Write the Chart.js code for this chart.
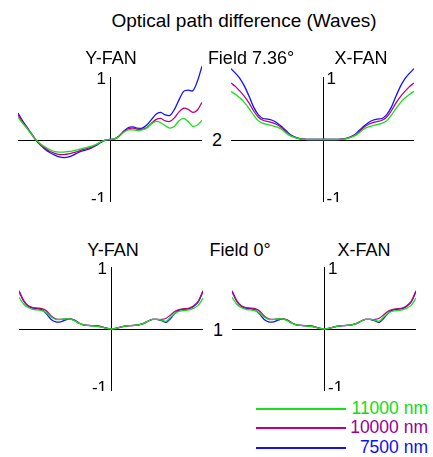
<!DOCTYPE html>
<html>
<head>
<meta charset="utf-8">
<script src="https://cdn.jsdelivr.net/npm/chart.js@4"></script>
<style>
  body { margin: 0; background: #fff; width: 433px; height: 457px; position: relative; overflow: hidden;
         font-family: "Liberation Sans", Arial, sans-serif; }
  canvas { position: absolute; }
  .t { position: absolute; font-size: 18px; color: #000; white-space: nowrap; transform: translate(-50%, -50%); line-height: 1; }
  .leg { position: absolute; height: 2px; }
  .lt { position: absolute; font-size: 17.5px; line-height: 1; transform: translateY(-50%); text-align: right; right: 5px; }
</style>
</head>
<body>
<canvas id="tl" width="184" height="140" style="left:18px;top:62px"></canvas>
<canvas id="tr" width="183" height="140" style="left:231px;top:62px"></canvas>
<canvas id="bl" width="184" height="129" style="left:19px;top:262px"></canvas>
<canvas id="br" width="184" height="129" style="left:232px;top:262px"></canvas>

<div class="t" style="left:244px;top:20px;font-size:19px">Optical path difference (Waves)</div>
<div class="t" style="left:111px;top:58px">Y-FAN</div>
<div class="t" style="left:251px;top:58px">Field 7.36°</div>
<div class="t" style="left:361px;top:58px">X-FAN</div>
<div class="t" style="left:217px;top:140px">2</div>
<div class="t" style="left:113px;top:250px">Y-FAN</div>
<div class="t" style="left:240px;top:250px">Field 0°</div>
<div class="t" style="left:364px;top:250px">X-FAN</div>
<div class="t" style="left:218px;top:330px">1</div>

<div id="legend"></div>

<script>
// normalised pupil coordinate
const pupil = [-1, -0.95, -0.9, -0.85, -0.8, -0.75, -0.7, -0.65, -0.6, -0.55, -0.5, -0.45, -0.4, -0.35, -0.3, -0.25, -0.2, -0.15, -0.1, -0.05,
  0, 0.05, 0.1, 0.15, 0.2, 0.25, 0.3, 0.35, 0.4, 0.45, 0.5, 0.55, 0.6, 0.65, 0.7, 0.75, 0.8, 0.85, 0.9, 0.95, 1];

const wavelengths = ['11000 nm', '10000 nm', '7500 nm'];
const colors = ['#18e018', '#c0007f', '#1010ff'];
const tickValues = [1, -1];
const tickLabels = ['1', '-1'];

// Field 7.36 deg, Y-FAN
const yfan7Green = [0.37, 0.27, 0.18, 0.08, -0.01, -0.08, -0.13, -0.17, -0.20, -0.21, -0.21, -0.20, -0.19, -0.17, -0.15, -0.13, -0.11, -0.08, -0.04, -0.01,
  0, 0.01, 0.05, 0.12, 0.16, 0.16, 0.15, 0.16, 0.19, 0.26, 0.30, 0.28, 0.23, 0.19, 0.22, 0.31, 0.35, 0.30, 0.22, 0.24, 0.32];
const yfan7Magenta = [0.41, 0.29, 0.19, 0.08, -0.02, -0.09, -0.15, -0.20, -0.23, -0.25, -0.25, -0.24, -0.22, -0.20, -0.17, -0.15, -0.13, -0.09, -0.04, -0.01,
  0, 0.01, 0.06, 0.13, 0.18, 0.19, 0.17, 0.17, 0.20, 0.27, 0.33, 0.35, 0.31, 0.30, 0.36, 0.46, 0.52, 0.50, 0.45, 0.49, 0.62];
const yfan7Blue = [0.44, 0.31, 0.20, 0.09, -0.02, -0.10, -0.17, -0.22, -0.26, -0.29, -0.30, -0.29, -0.26, -0.22, -0.19, -0.17, -0.14, -0.10, -0.05, -0.01,
  0, 0.01, 0.06, 0.14, 0.20, 0.21, 0.19, 0.19, 0.24, 0.33, 0.42, 0.45, 0.41, 0.40, 0.50, 0.66, 0.80, 0.82, 0.81, 0.97, 1.22];

// Field 7.36 deg, X-FAN
const xfan7Green = [0.80, 0.75, 0.69, 0.61, 0.51, 0.40, 0.31, 0.27, 0.25, 0.23, 0.21, 0.17, 0.11, 0.06, 0.03, 0.01, 0.003, 0, 0, 0,
  0, 0, 0, 0, 0.003, 0.01, 0.03, 0.06, 0.11, 0.17, 0.21, 0.23, 0.25, 0.27, 0.31, 0.40, 0.51, 0.61, 0.69, 0.75, 0.80];
const xfan7Magenta = [0.94, 0.88, 0.80, 0.71, 0.60, 0.47, 0.37, 0.32, 0.30, 0.28, 0.25, 0.20, 0.13, 0.07, 0.035, 0.012, 0.004, 0, 0, 0,
  0, 0, 0, 0, 0.004, 0.012, 0.035, 0.07, 0.13, 0.20, 0.25, 0.28, 0.30, 0.32, 0.37, 0.47, 0.60, 0.71, 0.80, 0.88, 0.94];
const xfan7Blue = [1.18, 1.10, 1.01, 0.88, 0.71, 0.53, 0.41, 0.35, 0.34, 0.32, 0.28, 0.22, 0.15, 0.08, 0.04, 0.015, 0.005, 0, 0, 0,
  0, 0, 0, 0, 0.005, 0.015, 0.04, 0.08, 0.15, 0.22, 0.28, 0.32, 0.34, 0.35, 0.41, 0.53, 0.71, 0.88, 1.01, 1.10, 1.18];

// Field 0 deg (Y-FAN and X-FAN look the same)
const fan0Green = [0.53, 0.42, 0.36, 0.33, 0.32, 0.31, 0.27, 0.20, 0.16, 0.16, 0.17, 0.17, 0.14, 0.10, 0.07, 0.06, 0.05, 0.045, 0.03, 0.01,
  0, 0.01, 0.03, 0.05, 0.055, 0.06, 0.07, 0.09, 0.13, 0.16, 0.16, 0.15, 0.13, 0.20, 0.27, 0.30, 0.31, 0.32, 0.35, 0.40, 0.52];
const fan0Magenta = [0.64, 0.48, 0.39, 0.36, 0.35, 0.34, 0.30, 0.22, 0.17, 0.16, 0.17, 0.17, 0.15, 0.10, 0.07, 0.06, 0.055, 0.05, 0.035, 0.015,
  0, 0.01, 0.03, 0.05, 0.055, 0.06, 0.07, 0.09, 0.13, 0.16, 0.16, 0.16, 0.18, 0.24, 0.30, 0.33, 0.34, 0.35, 0.39, 0.47, 0.64];
const fan0Blue = [0.63, 0.47, 0.38, 0.35, 0.34, 0.32, 0.25, 0.16, 0.12, 0.12, 0.15, 0.17, 0.15, 0.10, 0.07, 0.06, 0.055, 0.05, 0.035, 0.015,
  0, 0.01, 0.03, 0.05, 0.055, 0.06, 0.07, 0.09, 0.13, 0.16, 0.16, 0.14, 0.11, 0.18, 0.27, 0.32, 0.33, 0.34, 0.38, 0.46, 0.63];

const FONT = '"Liberation Sans", Arial, sans-serif';

// crosshair axes through zero, plus the 1 / -1 labels
const crossAxes = {
  id: 'crossAxes',
  beforeDatasetsDraw(chart) {
    const { ctx, chartArea: a, scales: { x, y } } = chart;
    const x0 = Math.round(x.getPixelForValue(0)) + 0.5;
    const y0 = Math.round(y.getPixelForValue(0)) + 0.5;
    ctx.save();
    ctx.strokeStyle = '#000';
    ctx.lineWidth = 1;
    ctx.beginPath();
    ctx.moveTo(a.left, y0);
    ctx.lineTo(a.right, y0);
    ctx.moveTo(x0, a.top);
    ctx.lineTo(x0, a.bottom);
    ctx.stroke();
    ctx.restore();
  },
  afterDraw(chart, args, opts) {
    const { ctx, scales: { x, y } } = chart;
    const x0 = x.getPixelForValue(0);
    const right = opts.side === 'right';
    ctx.save();
    ctx.font = '17px ' + FONT;
    ctx.fillStyle = '#000';
    ctx.textBaseline = 'middle';
    ctx.textAlign = right ? 'left' : 'right';
    tickValues.forEach((v, i) => {
      ctx.fillText(tickLabels[i], x0 + (right ? 4 : -4), y.getPixelForValue(v));
    });
    ctx.restore();
  }
};

const makeFan = (id, series, side, padTop) => {
  const datasets = series.map((vals, i) => ({
    label: wavelengths[i],
    data: pupil.map((p, k) => ({ x: p, y: vals[k] })),
    borderColor: colors[i],
    borderWidth: 1.3,
    pointRadius: 0,
    tension: 0.3,
    clip: false,
    fill: false
  }));
  return new Chart(document.getElementById(id), {
    type: 'line',
    data: { datasets },
    options: {
      responsive: false,
      animation: false,
      devicePixelRatio: 1,
      layout: { padding: { top: padTop, left: 0, right: 0, bottom: 0 } },
      plugins: { legend: { display: false }, tooltip: { enabled: false }, crossAxes: { side } },
      scales: {
        x: { type: 'linear', min: -1, max: 1, display: false },
        y: { min: -1.04, max: 1.04, display: false }
      }
    },
    plugins: [crossAxes]
  });
};

makeFan('tl', [yfan7Green, yfan7Magenta, yfan7Blue], 'left', 15);
makeFan('tr', [xfan7Green, xfan7Magenta, xfan7Blue], 'right', 15);
makeFan('bl', [fan0Green, fan0Magenta, fan0Blue], 'left', 5);
makeFan('br', [fan0Green, fan0Magenta, fan0Blue], 'right', 5);

// legend
const legendY = [409, 428, 448];
const textColors = ['#10dd10', '#990099', '#1010ee'];
const legend = document.getElementById('legend');
wavelengths.forEach((w, i) => {
  const line = document.createElement('div');
  line.className = 'leg';
  line.style.cssText = `left:256px;width:90px;top:${legendY[i] - 1}px;background:${colors[i]}`;
  legend.appendChild(line);
  const txt = document.createElement('div');
  txt.className = 'lt';
  txt.style.cssText = `top:${legendY[i]}px;color:${textColors[i]}`;
  txt.textContent = w;
  legend.appendChild(txt);
});
</script>
</body>
</html>
